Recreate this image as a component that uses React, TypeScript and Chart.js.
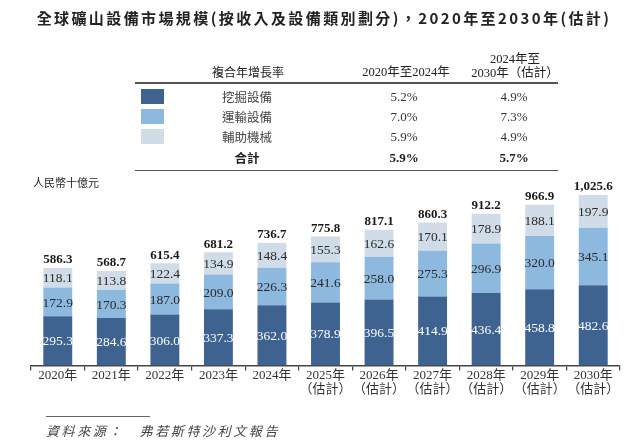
import React, { useEffect, useRef } from "react";
import { Chart, registerables } from "chart.js";

Chart.register(...registerables);

const years = ["2020年", "2021年", "2022年", "2023年", "2024年", "2025年", "2026年", "2027年", "2028年", "2029年", "2030年"];
const estimated = [false, false, false, false, false, true, true, true, true, true, true];
const excavation = [295.3, 284.6, 306.0, 337.3, 362.0, 378.9, 396.5, 414.9, 436.4, 458.8, 482.6];
const transport = [172.9, 170.3, 187.0, 209.0, 226.3, 241.6, 258.0, 275.3, 296.9, 320.0, 345.1];
const auxiliary = [118.1, 113.8, 122.4, 134.9, 148.4, 155.3, 162.6, 170.1, 178.9, 188.1, 197.9];
const totals = [586.3, 568.7, 615.4, 681.2, 736.7, 775.8, 817.1, 860.3, 912.2, 966.9, 1025.6];

const seriesNames = ["挖掘設備", "運輸設備", "輔助機械"];
const seriesColors = ["#3f6391", "#8db9de", "#d0dde9"];
const cagr2020_2024 = ["5.2%", "7.0%", "5.9%"];
const cagr2024_2030 = ["4.9%", "7.3%", "4.9%"];
const totalCagr = ["5.9%", "5.7%"];

const fmt = (v: number) =>
  v.toLocaleString("en-US", { minimumFractionDigits: 1, maximumFractionDigits: 1 });

const SERIF = '"Liberation Serif", "Noto Sans CJK TC", serif';
const CJK = '"Noto Sans CJK TC", sans-serif';

const labelPlugin = {
  id: "valueLabels",
  afterDatasetsDraw(chart: any) {
    const ctx = chart.ctx;
    ctx.save();
    ctx.textAlign = "center";
    ctx.textBaseline = "middle";
    chart.data.datasets.forEach((ds: any, di: number) => {
      const meta = chart.getDatasetMeta(di);
      meta.data.forEach((bar: any, i: number) => {
        const v = ds.data[i];
        const yc = (bar.y + bar.base) / 2;
        ctx.font = `13.5px ${SERIF}`;
        ctx.fillStyle = di === 0 ? "#ffffff" : "#2a2a2a";
        ctx.fillText(fmt(v), bar.x, yc + 1);
      });
    });
    const last = chart.getDatasetMeta(chart.data.datasets.length - 1);
    last.data.forEach((bar: any, i: number) => {
      ctx.font = `bold 13px ${SERIF}`;
      ctx.fillStyle = "#1a1a1a";
      ctx.fillText(fmt(totals[i]), bar.x, bar.y - 8);
    });
    ctx.restore();
  },
};

const abs = (x: number, y: number, extra: React.CSSProperties = {}): React.CSSProperties => ({
  position: "absolute",
  left: x,
  top: y,
  whiteSpace: "nowrap",
  ...extra,
});

const centered = (cx: number, cy: number, extra: React.CSSProperties = {}): React.CSSProperties => ({
  position: "absolute",
  left: cx - 100,
  width: 200,
  top: cy - 10,
  height: 20,
  lineHeight: "20px",
  textAlign: "center",
  whiteSpace: "nowrap",
  ...extra,
});

export default function App() {
  const ref = useRef<HTMLCanvasElement | null>(null);

  useEffect(() => {
    if (!ref.current) return;
    const labels = years.map((y, i) => (estimated[i] ? [y, "（估計）"] : [y]));
    const chart = new Chart(ref.current, {
      type: "bar",
      data: {
        labels,
        datasets: [excavation, transport, auxiliary].map((d, i) => ({
          label: seriesNames[i],
          data: d,
          backgroundColor: seriesColors[i],
          borderWidth: 0,
          categoryPercentage: 1,
          barPercentage: 0.54,
        })),
      },
      options: {
        animation: false,
        responsive: false,
        devicePixelRatio: 1,
        layout: { padding: { left: 31, right: 20, top: 166, bottom: 51 } },
        plugins: { legend: { display: false }, tooltip: { enabled: false }, title: { display: false } },
        scales: {
          x: {
            stacked: true,
            grid: {
              display: true,
              drawOnChartArea: false,
              drawTicks: true,
              tickLength: 5,
              offset: true,
              color: "#444",
              lineWidth: 1.2,
            },
            border: { display: true, color: "#444", width: 1.5 },
            ticks: {
              padding: -2,
              color: "#333",
              font: { family: SERIF, size: 13, lineHeight: 1.1 },
              maxRotation: 0,
              autoSkip: false,
            },
          },
          y: { stacked: true, display: false, min: 0, max: 1200 },
        },
      },
      plugins: [labelPlugin],
    });
    return () => chart.destroy();
  }, []);

  const rowYs = [97, 117, 137];
  return (
    <div style={{ position: "fixed", left: 0, top: 0, width: 640, height: 446, background: "#fff", overflow: "hidden", color: "#222" }}>
      <canvas ref={ref} width={640} height={446} style={{ position: "absolute", left: 0, top: 0, width: 640, height: 446 }} />
      <div style={centered(324, 18, { width: 640, left: 4, fontFamily: CJK, fontWeight: 700, fontSize: 15, letterSpacing: 2.4, color: "#222" })}>
        全球礦山設備市場規模(按收入及設備類別劃分)，2020年至2030年(估計)
      </div>
      <div style={centered(248, 72, { fontFamily: CJK, fontSize: 12, color: "#222" })}>複合年增長率</div>
      <div style={centered(406, 72, { fontFamily: SERIF, fontSize: 12.5, color: "#222" })}>2020年至2024年</div>
      <div style={centered(515, 59, { fontFamily: SERIF, fontSize: 12.5, color: "#222" })}>2024年至</div>
      <div style={centered(515, 73, { fontFamily: SERIF, fontSize: 12.5, color: "#222" })}>2030年（估計）</div>
      <div style={abs(135, 82, { width: 423, height: 2, background: "#555" })} />
      {seriesNames.map((n, i) => (
        <React.Fragment key={n}>
          <div style={abs(141, rowYs[i] - 8, { width: 23, height: 15, background: seriesColors[i] })} />
          <div style={centered(247, rowYs[i], { fontFamily: CJK, fontSize: 12.5, color: "#444" })}>{n}</div>
          <div style={centered(404, rowYs[i], { fontFamily: SERIF, fontSize: 13, color: "#333" })}>{cagr2020_2024[i]}</div>
          <div style={centered(514, rowYs[i], { fontFamily: SERIF, fontSize: 13, color: "#333" })}>{cagr2024_2030[i]}</div>
        </React.Fragment>
      ))}
      <div style={centered(247, 158, { fontFamily: CJK, fontSize: 12.5, fontWeight: 700, color: "#222" })}>合計</div>
      <div style={centered(404, 158, { fontFamily: SERIF, fontSize: 13, fontWeight: 700, color: "#222" })}>{totalCagr[0]}</div>
      <div style={centered(514, 158, { fontFamily: SERIF, fontSize: 13, fontWeight: 700, color: "#222" })}>{totalCagr[1]}</div>
      <div style={abs(135, 170, { width: 423, height: 1, background: "#555" })} />
      <div style={abs(33, 174, { fontFamily: CJK, fontSize: 11, color: "#222", lineHeight: "16px" })}>人民幣十億元</div>
      <div style={abs(46, 416, { width: 104, height: 1, background: "#666" })} />
      <div style={abs(46, 422, { fontFamily: CJK, fontStyle: "italic", fontSize: 13, letterSpacing: 2.6, color: "#444", lineHeight: "18px" })}>
        資料來源：　弗若斯特沙利文報告
      </div>
    </div>
  );
}
